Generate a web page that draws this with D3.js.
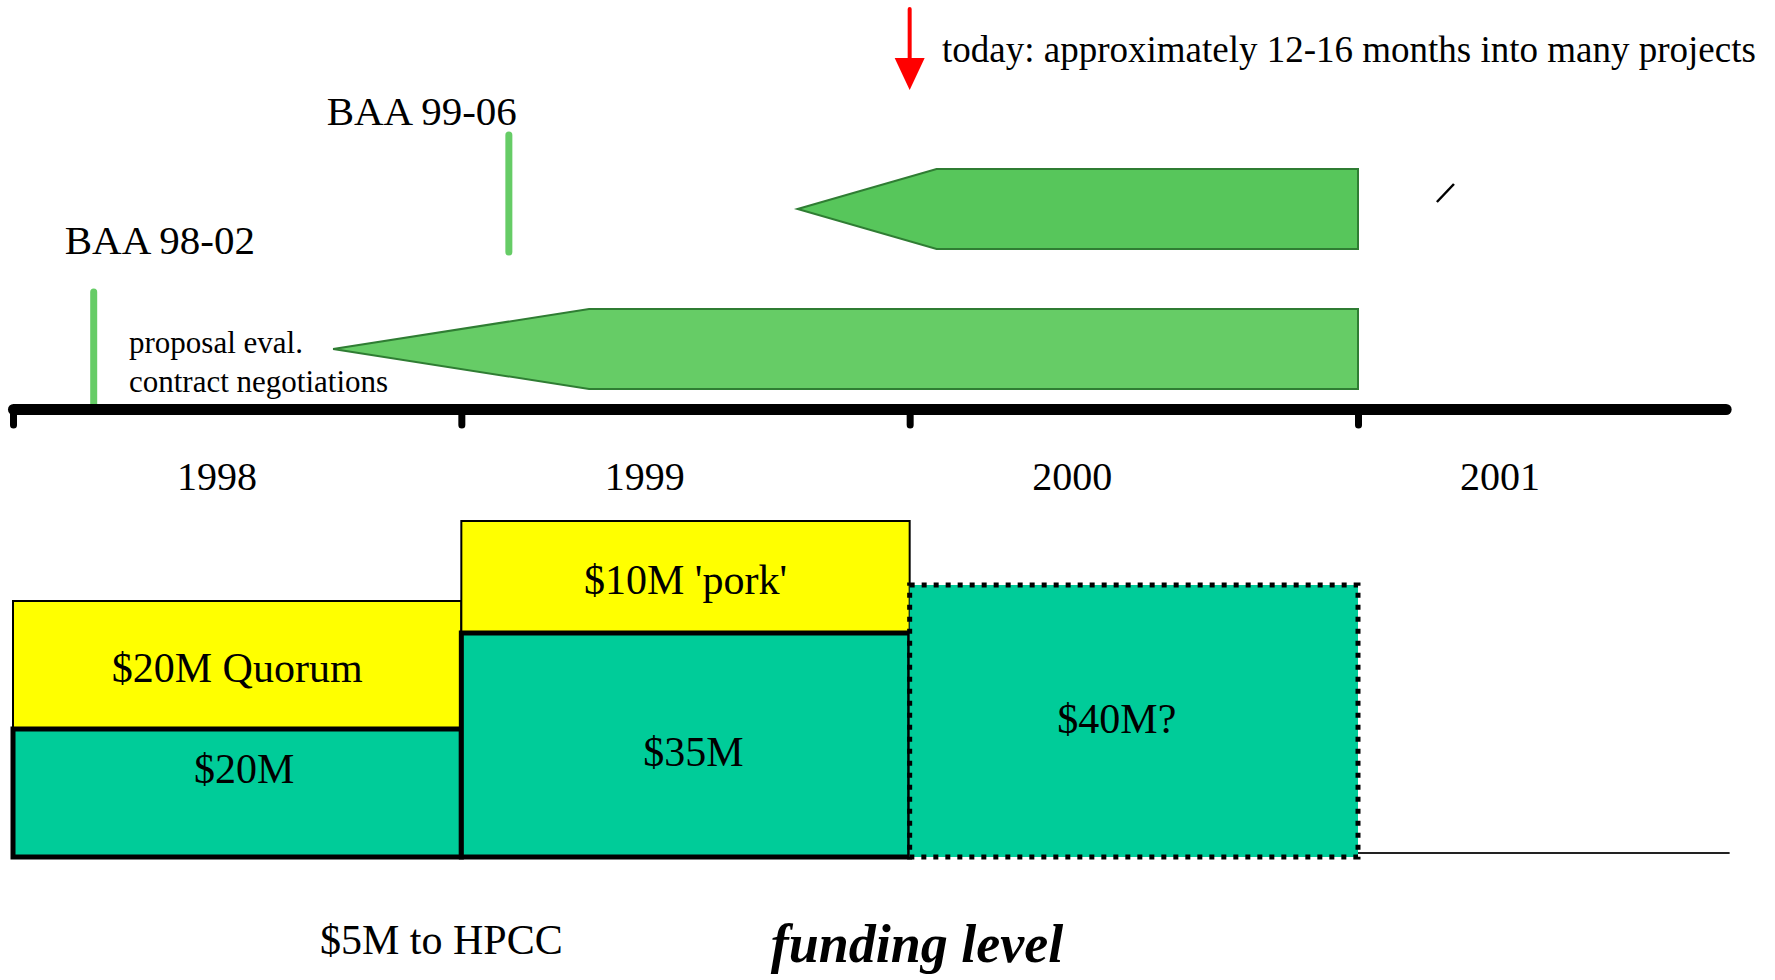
<!DOCTYPE html>
<html lang="en">
<head>
    <meta charset="UTF-8">
    <title>Program Timeline and Funding Level</title>
    <script src="https://d3js.org/d3.v7.min.js"></script>
    <style>
        body {
            margin: 0;
            background: #ffffff;
        }
        svg text {
            font-family: 'Liberation Serif', 'Times New Roman', Times, serif;
            fill: #000;
        }
    </style>
</head>
<body>
    <div id="chart"></div>

    <script>
        // timeline data (time in fractional years)
        const years = [1998, 1999, 2000, 2001];
        const axisEnd = 2001.82;
        const today = 2000.0;
        const todayText = "today: approximately 12-16 months into many projects";

        const baaNames = ["BAA 98-02", "BAA 99-06"];
        const baaDates = [1998.18, 1999.106];

        // project phase arrows: tip -> shoulder -> end
        const phaseRows = ["BAA 99-06", "BAA 98-02"];
        const phaseTip = [1999.75, 1998.714];
        const phaseShoulder = [2000.06, 1999.285];
        const phaseEnd = [2001.0, 2001.0];

        // funding ($M)
        const fundYears = [1998, 1999, 2000];
        const baseFunding = [20, 35, 42.5];
        const extraFunding = [20, 17.5, 0];
        const baseLabels = ["$20M", "$35M", "$40M?"];
        const extraLabels = ["$20M Quorum", "$10M 'pork'", ""];

        const width = 1775;
        const height = 980;

        const svg = d3.select("#chart")
            .append("svg")
            .attr("width", width)
            .attr("height", height);

        const x = d3.scaleLinear()
            .domain([1998, 2001])
            .range([13, 1358]);

        const yearLabelX = d3.scalePoint()
            .domain(years)
            .range([217, 1500]);

        const row = d3.scaleBand()
            .domain(phaseRows)
            .range([169, 389])
            .paddingInner(0.4286);

        const axisY = 409;
        const baseY = 857;

        const fund = d3.scaleLinear()
            .domain([0, 50])
            .range([baseY, baseY - 320]);

        // ---- phase arrows ----
        const arrowColors = ["#57c65b", "#66cc66"];
        svg.selectAll(".phase")
            .data(phaseRows)
            .join("path")
            .attr("class", "phase")
            .attr("d", (d, i) => {
                const y0 = row(d), y1 = y0 + row.bandwidth(), ym = (y0 + y1) / 2;
                return `M${x(phaseTip[i])},${ym} L${x(phaseShoulder[i])},${y0} L${x(phaseEnd[i])},${y0} L${x(phaseEnd[i])},${y1} L${x(phaseShoulder[i])},${y1} Z`;
            })
            .attr("fill", (d, i) => arrowColors[i])
            .attr("stroke", "#2f7d33")
            .attr("stroke-width", 2);

        // small stray mark right of the upper arrow
        svg.append("line")
            .attr("x1", x(2001.176)).attr("y1", 202)
            .attr("x2", x(2001.214)).attr("y2", 184)
            .attr("stroke", "#000")
            .attr("stroke-width", 2.5);

        // ---- BAA markers ----
        const baaTop = [292, 135];
        const baaBottom = [404, 252];
        svg.selectAll(".baa")
            .data(baaNames)
            .join("line")
            .attr("class", "baa")
            .attr("x1", (d, i) => x(baaDates[i]))
            .attr("x2", (d, i) => x(baaDates[i]))
            .attr("y1", (d, i) => baaTop[i])
            .attr("y2", (d, i) => baaBottom[i])
            .attr("stroke", "#66cc66")
            .attr("stroke-width", 7)
            .attr("stroke-linecap", "round");

        svg.append("text")
            .attr("x", x(baaDates[0]) - 29)
            .attr("y", 254)
            .attr("font-size", 41)
            .text(baaNames[0]);

        svg.append("text")
            .attr("x", x(baaDates[1]) + 8)
            .attr("y", 125)
            .attr("text-anchor", "end")
            .attr("font-size", 41)
            .text(baaNames[1]);

        svg.append("text")
            .attr("x", 129)
            .attr("y", 353)
            .attr("font-size", 31)
            .text("proposal eval.");
        svg.append("text")
            .attr("x", 129)
            .attr("y", 392)
            .attr("font-size", 31)
            .text("contract negotiations");

        // ---- today arrow ----
        svg.append("line")
            .attr("x1", x(today)).attr("x2", x(today))
            .attr("y1", 9).attr("y2", 62)
            .attr("stroke", "#ff0000")
            .attr("stroke-width", 4)
            .attr("stroke-linecap", "round");
        svg.append("path")
            .attr("d", `M${x(today) - 15},58 L${x(today) + 15},58 L${x(today)},90 Z`)
            .attr("fill", "#ff0000");
        svg.append("text")
            .attr("x", 942)
            .attr("y", 62)
            .attr("font-size", 37)
            .text(todayText);

        // ---- time axis ----
        const axisScale = x.copy().domain([1998, axisEnd]).range([x(1998), x(axisEnd)]);
        const axis = svg.append("g")
            .attr("transform", `translate(0,${axisY})`)
            .call(d3.axisBottom(axisScale)
                .tickValues(years)
                .tickSize(16)
                .tickSizeOuter(0)
                .tickFormat(""));
        axis.select(".domain")
            .attr("stroke", "#000")
            .attr("stroke-width", 11)
            .attr("stroke-linecap", "round");
        axis.selectAll(".tick line")
            .attr("stroke", "#000")
            .attr("stroke-width", 7)
            .attr("stroke-linecap", "round");

        svg.selectAll(".year")
            .data(years)
            .join("text")
            .attr("class", "year")
            .attr("x", d => yearLabelX(d))
            .attr("y", 490)
            .attr("text-anchor", "middle")
            .attr("font-size", 40)
            .text(d => d);

        // ---- funding boxes ----
        const fundData = fundYears.map((yr, i) => ({
            year: yr,
            base: baseFunding[i],
            extra: extraFunding[i],
            baseLabel: baseLabels[i],
            extraLabel: extraLabels[i],
            planned: i === fundYears.length - 1
        }));

        const extras = fundData.filter(d => d.extra > 0);

        svg.selectAll(".extra")
            .data(extras)
            .join("rect")
            .attr("class", "extra")
            .attr("x", d => x(d.year))
            .attr("width", d => x(d.year + 1) - x(d.year))
            .attr("y", d => fund(d.base + d.extra))
            .attr("height", d => fund(d.base) - fund(d.base + d.extra))
            .attr("fill", "#ffff00")
            .attr("stroke", "#000")
            .attr("stroke-width", 2);

        svg.selectAll(".base")
            .data(fundData)
            .join("rect")
            .attr("class", "base")
            .attr("x", d => x(d.year))
            .attr("width", d => x(d.year + 1) - x(d.year))
            .attr("y", d => fund(d.base))
            .attr("height", d => fund(0) - fund(d.base))
            .attr("fill", "#00cc99")
            .attr("stroke", "#000")
            .attr("stroke-width", 5)
            .attr("stroke-dasharray", d => d.planned ? "5,7" : null);

        // thin baseline after the funded years
        svg.append("line")
            .attr("x1", x(2001)).attr("x2", x(axisEnd) + 4)
            .attr("y1", baseY - 4).attr("y2", baseY - 4)
            .attr("stroke", "#222")
            .attr("stroke-width", 2);

        svg.selectAll(".extra-label")
            .data(extras)
            .join("text")
            .attr("class", "extra-label")
            .attr("x", d => (x(d.year) + x(d.year + 1)) / 2)
            .attr("y", d => (fund(d.base) + fund(d.base + d.extra)) / 2)
            .attr("dy", "0.4em")
            .attr("text-anchor", "middle")
            .attr("font-size", 42)
            .text(d => d.extraLabel);

        // labels in the base boxes sit a little off centre in the original
        const baseLabelDx = [7, 8, -17];
        const baseLabelDy = ["-0.24em", "0.5em", "0.29em"];
        svg.selectAll(".base-label")
            .data(fundData)
            .join("text")
            .attr("class", "base-label")
            .attr("x", (d, i) => (x(d.year) + x(d.year + 1)) / 2 + baseLabelDx[i])
            .attr("y", d => (fund(0) + fund(d.base)) / 2)
            .attr("dy", (d, i) => baseLabelDy[i])
            .attr("text-anchor", "middle")
            .attr("font-size", 42)
            .text(d => d.baseLabel);

        // ---- bottom captions ----
        svg.append("text")
            .attr("x", 320)
            .attr("y", 954)
            .attr("font-size", 42)
            .text("$5M to HPCC");

        svg.append("text")
            .attr("x", 917)
            .attr("y", 962)
            .attr("text-anchor", "middle")
            .attr("font-size", 54)
            .attr("font-weight", "bold")
            .attr("font-style", "italic")
            .text("funding level");
    </script>
</body>
</html>
